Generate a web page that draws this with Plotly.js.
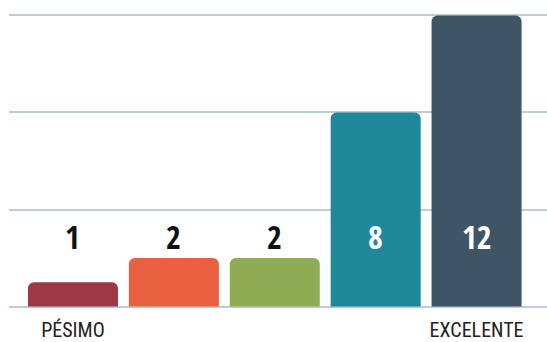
<!DOCTYPE html>
<html>
<head>
<meta charset="utf-8">
<script src="https://cdn.plot.ly/plotly-3.0.1.min.js"></script>
<style>html,body{margin:0;padding:0;background:#fff;}#chart{width:547px;height:342px;}</style>
</head>
<body>
<div id="chart"></div>
<script>
const categories = ["Pésimo", "Malo", "Regular", "Bueno", "Excelente"];
const values = [1, 2, 2, 8, 12];
const tickLabels = ["PÉSIMO", "", "", "", "EXCELENTE"];
const gridValues = [0, 4, 8, 12];
const barColors = ["#9e3847", "#e9603f", "#8fac54", "#1e8899", "#3e5566"];
const labelColors = ["#111111", "#111111", "#111111", "#ffffff", "#ffffff"];

const FONT = "'Open Sans Condensed', 'Roboto Condensed', sans-serif";
const TICKFONT = "'Roboto Condensed', 'Open Sans Condensed', sans-serif";

const trace = {
  type: "bar",
  x: categories,
  y: values,
  width: 0.892,
  marker: { color: barColors, line: { width: 0 } },
  hoverinfo: "none"
};

const annotations = categories.map((c, i) => ({
  x: c, y: 2.88, xref: "x", yref: "y",
  text: String(values[i]),
  showarrow: false,
  font: { family: FONT, size: 32, color: labelColors[i], weight: 700 },
  xanchor: "center", yanchor: "middle"
}));

const layout = {
  width: 547, height: 342,
  margin: { l: 9, r: 0, t: 14, b: 34 },
  paper_bgcolor: "#ffffff",
  plot_bgcolor: "#ffffff",
  showlegend: false,
  barcornerradius: 6,
  xaxis: {
    type: "category",
    range: [-0.634, 4.698],
    tickvals: categories,
    ticktext: tickLabels,
    showgrid: false, zeroline: false, showline: false,
    ticks: "",
    tickfont: { family: TICKFONT, size: 20, color: "#222222", weight: 400 },
    ticklabelstandoff: 8,
    automargin: false,
    fixedrange: true
  },
  yaxis: {
    range: [-0.06, 12.06],
    tickvals: gridValues,
    showticklabels: false,
    showgrid: true,
    gridcolor: "#b9ced5",
    gridwidth: 2,
    zeroline: false,
    showline: false,
    ticks: "",
    fixedrange: true
  },
  annotations: annotations
};

Plotly.newPlot("chart", [trace], layout, { staticPlot: true, displayModeBar: false });
</script>
</body>
</html>
